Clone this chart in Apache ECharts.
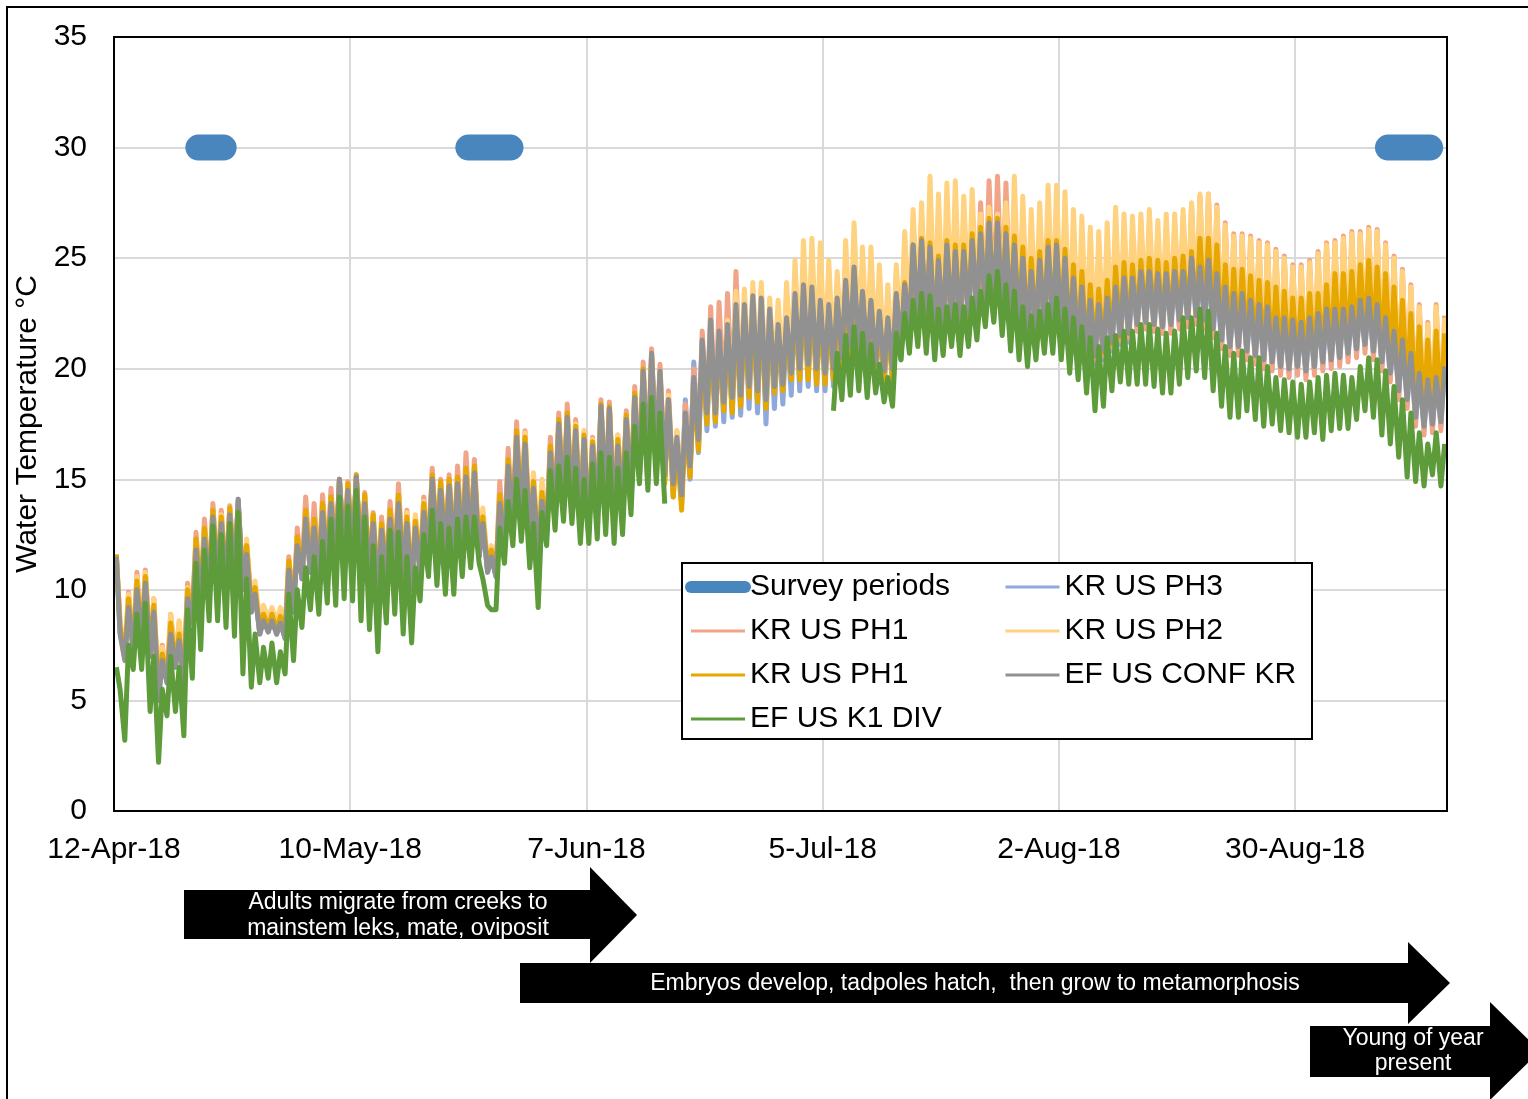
<!DOCTYPE html>
<html>
<head>
<meta charset="utf-8">
<title>Water temperature 2018</title>
<script src="https://cdn.jsdelivr.net/npm/echarts@6/dist/echarts.min.js"></script>
<style>
  html, body { margin: 0; padding: 0; background: #fff; }
  #chart { width: 1528px; height: 1099px; }
</style>
</head>
<body>
<div id="chart"></div>
<script>
// day 0 = 12-Apr-18, one morning (am) and one afternoon (pm) reading per day
const startYear = 2018, startMonth = 3, startDay = 12
const xTickStep = 28
const yMax = 35, yStep = 5

// survey periods (day numbers) drawn at 30 °C
const surveyStart = [10, 42, 151]
const surveyEnd = [13, 47, 156]
const surveyLevel = 30

// EF US CONF KR
const confAm = [11.5,6.8,7.2,7.6,7.0,5.0,5.8,6.5,5.8,8.5,9.5,10.0,10.5,10.2,10.4,10.0,9.0,8.0,8.1,8.0,7.8,
  9.0,10.5,10.8,10.6,11.0,11.2,11.5,11.4,11.0,10.4,9.8,10.5,11.0,10.6,10.0,10.8,11.6,11.8,11.5,11.6,
  11.8,12.0,11.5,10.8,10.6,11.8,12.8,13.0,12.2,11.5,12.5,13.4,13.6,13.5,12.8,12.6,13.2,13.8,13.0,13.5,
  14.0,15.2,15.5,15.8,15.2,14.8,14.3,15.6,16.8,18.0,18.0,18.5,18.7,18.8,19.2,19.0,18.6,19.2,19.3,19.8,
  20.0,20.2,20.0,19.8,20.0,20.5,21.0,20.8,20.5,20.2,19.9,20.0,21.0,21.8,22.2,22.0,21.6,21.8,22.0,
  22.0,22.4,22.6,22.8,22.6,22.5,22.2,21.8,21.6,21.7,22.0,22.0,21.6,21.0,20.8,20.8,20.6,20.8,21.2,21.5,21.6,
  22.0,22.1,22.0,21.9,22.0,22.2,22.3,22.4,22.2,21.8,21.3,21.0,21.0,20.8,20.6,20.4,20.3,20.1,20.0,
  20.1,19.9,20.1,20.3,20.4,20.5,20.7,20.9,21.1,20.8,20.3,19.8,19.0,18.6,17.8,17.4,17.5,17.6]
const confPm = [8.0,9.2,10.0,10.3,9.0,6.8,8.0,7.7,9.6,11.8,12.3,13.3,13.0,13.4,14.1,11.6,9.8,8.6,8.6,8.5,10.9,
  12.0,13.2,12.8,13.5,13.9,15.0,14.5,15.1,13.9,13.0,12.7,13.2,13.9,13.0,12.8,13.5,15.0,14.5,14.7,14.8,
  15.1,15.3,13.0,11.5,13.9,15.6,16.9,16.6,14.6,14.0,16.2,17.5,17.8,17.2,16.8,16.5,18.3,18.2,16.5,17.7,
  18.7,19.9,20.7,19.9,18.6,16.9,18.0,19.6,21.3,22.2,21.7,22.0,22.9,22.9,23.3,23.2,22.7,22.0,22.3,23.4,
  23.8,23.7,23.1,22.9,23.2,24.0,24.6,23.5,23.1,22.6,22.3,23.4,23.8,25.6,25.8,25.5,24.9,25.6,25.3,
  25.3,25.8,26.1,26.6,26.6,26.1,25.6,25.0,24.4,24.9,25.5,25.6,25.0,24.1,23.7,23.1,22.9,23.2,23.7,24.1,24.1,
  24.4,24.4,24.3,24.3,24.4,24.4,25.0,24.6,24.9,24.3,23.7,23.4,23.4,23.1,22.9,22.8,22.3,22.3,22.2,
  22.1,22.3,22.5,22.7,22.7,22.7,22.8,23.1,23.2,22.9,22.3,21.7,21.3,20.7,19.8,19.5,19.6,20.1]

// EF US K1 DIV (logger out of the water 19-Jun to 6-Jul)
const k1Am = [6.5,3.2,6.4,6.4,4.5,2.2,4.3,4.5,3.4,6.0,7.3,8.6,8.6,8.3,7.9,6.2,5.6,5.8,6.0,5.8,6.2,
  6.8,8.3,9.1,8.9,9.4,9.3,9.6,9.5,8.6,8.2,7.2,8.5,8.9,8.0,7.6,9.5,10.6,10.2,9.8,9.8,
  10.6,11.0,11.2,9.3,9.1,11.2,12.0,12.2,11.0,9.2,12.0,12.7,13.1,13.0,12.1,12.1,12.3,12.5,12.1,12.5,
  13.4,14.8,14.5,14.8,13.9,null,null,null,null,null,null,null,null,null,null,null,null,null,null,null,
  null,null,null,null,18.1,18.6,18.8,19.0,18.7,18.9,18.5,18.3,20.4,20.7,21.0,20.7,20.4,20.6,21.0,
  20.6,21.0,21.3,21.9,22.1,21.5,20.8,20.4,20.1,20.4,20.7,20.7,20.4,19.8,19.5,18.9,18.1,18.3,19.0,19.4,19.3,
  19.3,19.3,19.2,18.9,18.9,19.3,19.6,19.9,19.6,19.0,18.3,17.8,17.8,18.1,17.7,17.4,17.5,17.2,17.1,
  16.9,16.9,17.1,16.8,17.2,17.3,17.3,17.7,18.1,17.8,17.0,16.6,16.0,15.1,14.9,14.7,15.2,14.7]
const k1Pm = [5.5,7.5,8.9,9.4,7.0,5.5,7.0,6.5,9.1,11.2,11.8,12.9,12.5,13.0,13.5,10.5,8.0,7.4,7.6,7.2,9.8,
  10.0,11.0,11.5,12.2,13.2,14.2,13.8,14.5,13.3,12.0,11.5,12.7,12.6,11.5,11.0,12.5,13.6,13.0,12.8,13.2,
  13.3,13.3,10.5,9.1,12.8,14.0,15.0,14.5,13.0,13.5,15.4,15.6,16.0,15.5,15.0,15.7,16.2,16.0,15.5,16.2,
  17.4,18.4,18.7,18.0,null,null,null,null,null,null,null,null,null,null,null,null,null,null,null,null,
  null,null,null,null,20.7,21.5,21.9,21.6,21.1,20.2,19.6,21.6,22.5,23.1,23.4,23.3,22.7,22.8,22.9,
  22.8,23.2,23.5,24.2,24.4,23.8,23.5,22.8,22.4,22.6,22.9,23.2,22.7,22.3,21.9,21.4,21.0,21.4,21.5,21.7,21.7,
  22.0,22.0,21.8,21.6,21.7,22.3,22.3,22.7,22.6,21.6,21.0,20.7,20.8,20.5,20.5,20.1,19.6,19.5,19.4,
  19.3,19.4,19.6,19.7,19.8,19.7,19.6,20.1,20.5,20.4,19.9,19.2,18.6,18.0,17.1,16.6,17.1,16.6]

// KR US PH1 (gold)
const ph1bAm = [11.6,7.0,7.4,7.8,7.2,5.3,6.0,6.6,6.0,8.7,9.7,10.2,10.6,10.4,10.6,10.2,9.2,8.2,8.3,8.2,8.0,
  9.2,10.6,11.0,10.8,11.2,11.3,11.6,11.6,11.2,10.6,10.0,10.7,11.2,10.8,10.2,11.0,11.7,12.0,11.7,11.8,
  12.0,12.2,11.7,11.0,10.8,12.0,13.0,13.2,12.4,11.7,12.7,13.6,13.8,13.7,13.0,12.8,13.4,14.0,13.2,13.9,
  14.1,15.0,15.3,15.5,14.8,14.2,13.6,15.1,16.3,17.5,17.6,18.1,18.0,18.3,18.7,18.5,18.2,18.9,19.0,19.5,
  19.5,19.5,19.3,19.3,19.5,19.8,20.2,20.0,19.8,19.6,19.3,19.5,20.6,21.5,21.9,21.8,21.5,21.7,21.9,
  22.0,22.3,22.5,22.6,22.5,22.4,22.1,21.8,21.5,21.6,21.9,22.0,21.6,21.0,20.7,20.6,20.6,20.7,21.1,21.4,21.6,
  22.1,22.2,22.1,22.0,22.1,22.3,22.4,22.5,22.4,22.0,21.5,21.2,21.2,21.0,20.8,20.6,20.5,20.3,20.2,
  20.3,20.2,20.4,20.6,20.7,20.8,21.0,21.2,21.4,21.1,20.6,20.1,19.4,19.0,18.3,17.9,17.9,18.0]
const ph1bPm = [8.3,9.6,10.4,10.6,9.3,7.1,8.5,8.0,10.0,12.3,12.8,13.6,13.3,13.7,13.9,12.0,10.1,8.9,8.9,8.8,11.3,
  12.4,13.6,13.2,13.9,14.2,15.0,14.8,15.2,14.3,13.4,13.0,13.6,14.3,13.3,13.1,13.9,15.2,14.9,15.0,15.1,
  15.5,15.6,13.3,11.8,14.3,15.9,17.2,16.9,14.9,14.4,16.5,17.7,18.0,17.4,17.0,16.7,18.4,18.3,16.8,17.9,
  18.9,20.0,20.5,19.8,18.6,16.5,17.5,19.2,21.0,21.8,21.4,21.6,22.4,22.5,22.9,22.8,22.3,21.7,22.0,23.0,
  23.4,23.4,22.9,22.6,23.0,23.8,24.4,23.4,23.0,22.5,22.2,23.3,23.9,25.6,25.9,25.7,25.1,25.8,25.6,
  25.6,26.1,26.4,26.8,26.8,26.4,26.0,25.5,25.0,25.3,25.8,25.8,25.4,24.7,24.4,23.8,23.6,24.0,24.6,24.8,24.7,
  24.9,25.0,24.9,24.8,25.0,25.1,25.3,25.9,25.9,25.6,24.7,24.5,24.5,24.2,24.0,23.9,23.7,23.5,23.2,
  23.2,23.4,23.4,23.8,24.3,24.3,24.4,24.7,24.9,24.6,24.3,23.7,23.1,22.5,21.9,21.3,21.7,21.6]

// KR US PH2
const ph2Am = [11.6,7.2,7.6,8.0,7.4,5.6,6.2,6.9,6.3,8.8,9.8,10.3,10.8,10.5,10.7,10.4,9.4,8.6,8.7,8.6,8.4,
  9.4,10.8,11.1,10.9,11.3,11.5,11.8,11.7,11.3,10.7,10.2,10.8,11.3,10.9,10.4,11.1,11.9,12.1,11.8,11.9,
  12.1,12.3,11.8,11.2,11.0,12.1,13.1,13.3,12.5,11.9,12.8,13.7,13.9,13.8,13.1,12.9,13.5,14.1,13.4,14.0,
  14.3,15.4,15.8,16.1,15.5,15.0,14.6,15.9,17.1,18.3,18.4,18.8,19.0,19.1,19.5,19.3,19.0,19.5,19.6,20.1,
  20.3,20.5,20.3,20.1,20.3,20.8,21.3,21.1,20.8,20.5,20.2,20.3,21.3,22.1,22.5,22.3,21.9,22.1,22.3,
  22.3,22.7,22.9,23.1,22.9,22.8,22.5,22.1,21.9,22.0,22.3,22.3,21.9,21.3,21.1,21.1,20.9,21.1,21.5,21.8,21.9,
  22.3,22.4,22.3,22.2,22.3,22.5,22.6,22.7,22.5,22.1,21.6,21.3,21.3,21.1,20.9,20.7,20.6,20.4,20.3,
  20.4,20.2,20.4,20.6,20.7,20.8,21.0,21.2,21.4,21.1,20.6,20.1,19.3,18.9,18.1,17.7,17.8,17.9]
const ph2Pm = [8.6,9.8,10.6,10.8,9.6,7.4,8.9,8.6,10.1,12.2,12.8,13.5,13.4,13.7,13.8,12.3,10.4,9.3,9.2,9.2,11.2,
  12.3,13.5,13.1,13.8,14.1,15.0,14.7,15.1,14.2,13.4,13.0,13.5,14.3,13.5,13.4,14.0,15.1,14.8,14.9,15.0,
  15.3,15.5,13.7,12.0,14.1,15.8,17.0,17.1,15.3,15.0,16.3,17.6,17.9,17.5,17.2,16.8,18.3,18.3,17.0,17.8,
  18.8,20.0,20.5,19.9,18.8,17.2,17.8,19.3,21.0,21.9,21.5,22.2,23.5,23.6,23.9,23.9,23.2,23.1,23.9,24.9,
  25.8,25.9,25.7,24.9,24.4,25.8,26.6,25.5,25.5,24.7,23.8,24.7,26.2,27.2,27.5,28.7,27.9,28.4,28.5,
  27.8,28.1,27.0,27.3,27.0,27.5,28.7,27.8,27.2,27.5,28.3,28.3,28.0,27.2,26.9,26.4,26.2,26.6,27.3,27.0,26.9,
  27.0,27.2,26.7,27.0,27.0,27.2,27.5,27.9,27.9,27.3,26.5,26.0,26.0,25.9,25.7,25.6,25.3,25.0,24.6,
  24.6,24.8,25.2,25.6,25.7,25.9,26.1,26.1,26.3,26.2,25.6,25.0,24.4,23.7,22.8,22.0,22.8,22.3]

// KR US PH1 (salmon)
const ph1aAm = [11.5,6.9,7.3,7.7,7.1,5.1,5.9,6.6,5.9,8.6,9.6,10.1,10.6,10.3,10.5,10.1,9.1,8.1,8.2,8.1,7.9,
  9.1,10.6,10.9,10.7,11.1,11.3,11.6,11.5,11.1,10.5,9.9,10.6,11.1,10.7,10.1,10.9,11.7,11.9,11.6,11.7,
  11.9,12.1,11.6,10.9,10.7,11.9,12.9,13.1,12.3,11.6,12.6,13.5,13.7,13.6,12.9,12.7,13.3,13.9,13.1,13.8,
  14.1,15.2,15.5,15.8,15.1,14.6,14.1,15.4,16.6,17.8,17.8,18.3,18.5,18.6,19.0,18.8,18.4,19.0,19.1,19.6,
  19.8,20.0,19.8,19.6,19.8,20.3,20.8,20.6,20.3,20.0,19.7,19.8,20.8,21.6,22.0,21.8,21.4,21.6,21.8,
  21.8,22.2,22.4,22.6,22.4,22.3,22.0,21.6,21.4,21.5,21.8,21.8,21.4,20.8,20.6,20.6,20.4,20.6,21.0,21.3,21.4,
  21.7,21.8,21.7,21.6,21.6,21.8,21.9,22.0,21.8,21.4,20.9,20.6,20.6,20.4,20.2,20.0,19.9,19.7,19.6,
  19.7,19.5,19.7,19.9,20.0,20.1,20.3,20.5,20.7,20.4,19.9,19.4,18.6,18.2,17.4,17.0,17.1,17.2]
const ph1aPm = [8.5,9.9,10.8,10.9,9.6,7.5,8.9,8.5,10.3,12.6,13.2,13.9,13.6,13.8,13.9,12.1,10.2,9.0,9.0,8.9,11.5,
  12.8,14.2,13.9,14.3,14.6,15.0,14.9,15.2,14.4,13.5,13.3,14.0,14.8,13.6,13.3,14.2,15.5,15.0,15.2,15.6,
  16.2,15.9,13.5,11.8,14.9,16.4,17.6,17.2,15.0,14.5,16.9,18.0,18.4,17.7,17.2,16.9,18.6,18.5,17.0,18.1,
  19.2,20.3,20.9,20.2,19.0,17.2,18.4,20.0,21.7,22.8,23.0,23.4,24.4,23.2,23.5,23.6,22.9,22.5,23.3,24.3,
  24.6,24.5,24.0,23.7,23.8,24.9,25.6,24.4,24.2,23.5,23.2,24.2,25.0,26.6,26.8,26.6,25.9,26.6,26.4,
  26.5,26.8,27.5,28.5,28.7,28.4,27.0,26.8,26.3,26.6,27.2,27.3,26.9,26.2,25.9,25.3,25.1,25.5,26.3,26.2,26.1,
  26.3,26.5,26.1,26.4,26.5,26.8,27.4,27.8,27.9,27.4,26.6,26.1,26.1,26.0,25.8,25.7,25.4,25.1,24.7,
  24.7,24.9,25.3,25.7,25.8,26.0,26.2,26.2,26.4,26.3,25.7,25.1,24.5,23.8,22.9,22.1,22.9,22.4]

// KR US PH3
const ph3Am = [11.4,6.9,7.2,7.6,7.0,5.1,5.8,6.5,5.9,8.5,9.5,10.0,10.4,10.2,10.4,10.0,9.0,8.0,8.1,8.0,7.8,
  9.0,10.5,10.8,10.6,11.0,11.2,11.4,11.4,11.0,10.4,9.8,10.5,11.0,10.6,10.0,10.8,11.6,11.8,11.5,11.6,
  11.8,12.0,11.5,10.8,10.6,11.8,12.8,13.0,12.2,11.5,12.5,13.4,13.6,13.5,12.8,12.6,13.2,13.8,13.0,13.6,
  14.0,15.1,15.4,15.6,15.0,14.2,13.9,15.0,16.2,17.2,17.4,17.6,17.8,17.9,18.2,18.0,17.5,18.2,18.4,18.8,
  19.0,19.2,19.0,19.0,19.2,19.6,20.1,19.9,19.6,19.4,19.1,19.3,20.4,21.3,21.7,21.5,21.1,21.3,21.5,
  21.6,22.0,22.2,22.4,22.2,22.1,21.8,21.4,21.2,21.3,21.6,21.6,21.2,20.6,20.4,20.4,20.2,20.4,20.8,21.1,21.2,
  21.7,21.8,21.7,21.6,21.7,21.9,22.0,22.1,21.9,21.5,21.0,20.8,20.8,20.6,20.4,20.2,20.1,19.9,19.8,
  19.9,19.7,19.9,20.1,20.2,20.3,20.5,20.7,20.9,20.6,20.1,19.6,18.8,18.4,17.6,17.2,17.3,17.4]
const ph3Pm = [8.1,9.2,10.0,10.4,9.1,6.9,8.1,7.8,9.7,11.9,12.4,13.3,13.1,13.4,14.1,11.7,9.9,8.7,8.7,8.6,11.0,
  12.1,13.2,12.8,13.5,13.9,15.0,14.5,15.1,13.9,13.0,12.7,13.2,13.9,13.0,12.8,13.5,15.0,14.5,14.7,14.8,
  15.1,15.3,13.0,11.5,13.9,15.6,16.9,16.6,14.6,14.0,16.2,17.5,17.8,17.2,16.8,16.5,18.3,18.2,16.5,17.7,
  18.7,19.9,20.7,19.9,18.6,17.0,18.6,20.3,21.3,22.2,21.7,22.0,22.9,22.9,23.3,23.2,22.7,22.0,22.3,23.4,
  23.8,23.7,23.1,22.9,23.2,24.0,24.6,23.5,23.1,22.6,22.3,23.4,23.8,25.6,25.8,25.5,24.9,25.6,25.3,
  25.3,25.8,26.1,26.6,26.6,26.1,25.6,25.0,24.4,24.9,25.5,25.6,25.0,24.1,23.7,23.1,22.9,23.2,23.7,24.1,24.1,
  24.4,24.4,24.3,24.3,24.4,24.4,25.0,24.6,24.9,24.3,23.7,23.4,23.4,23.1,22.9,22.8,22.3,22.3,22.2,
  22.1,22.3,22.5,22.7,22.7,22.7,22.8,23.1,23.2,22.9,22.3,21.7,21.3,20.7,19.8,19.5,19.6,20.1]

const fontFamily = 'Liberation Sans, Arial, sans-serif'
const monthNames = ['Jan', 'Feb', 'Mar', 'Apr', 'May', 'Jun', 'Jul', 'Aug', 'Sep', 'Oct', 'Nov', 'Dec']
const amTime = 0.28, pmTime = 0.72

const dayLabel = v => {
  const d = new Date(startYear, startMonth, startDay + Math.round(v))
  return d.getDate() + '-' + monthNames[d.getMonth()] + '-' + String(d.getFullYear()).slice(2)
}

// morning + afternoon readings -> [day, value] pairs, '-' breaks the line
const toPoints = (am, pm) => {
  const out = []
  am.forEach((v, d) => {
    out.push([d + amTime, v == null ? '-' : v])
    out.push([d + pmTime, pm[d] == null ? '-' : pm[d]])
  })
  return out
}

const tempSeries = (name, color, am, pm) => ({
  name: name,
  type: 'line',
  data: toPoints(am, pm),
  symbol: 'none',
  silent: true,
  lineStyle: { color: color, width: 5, join: 'round' },
  itemStyle: { color: color }
})

const surveyColor = '#4A86BE'
const surveySeries = surveyStart.map((s, i) => ({
  name: 'Survey periods',
  type: 'line',
  symbol: 'none',
  silent: true,
  data: [[s, surveyLevel], [surveyEnd[i], surveyLevel]],
  lineStyle: { color: surveyColor, width: 26, cap: 'round' },
  itemStyle: { color: surveyColor }
}))

const legendText = { fontSize: 30, color: '#000', fontFamily: fontFamily, lineHeight: 30 }

const chart = echarts.init(document.getElementById('chart'))

chart.setOption({
  animation: false,
  backgroundColor: '#fff',
  grid: { left: 114, top: 37, width: 1333, height: 774 },
  xAxis: {
    type: 'value',
    min: 0,
    max: 158,
    interval: xTickStep,
    axisLine: { show: false },
    axisTick: { show: false },
    splitLine: { show: true, lineStyle: { color: '#D9D9D9', width: 2 } },
    axisLabel: {
      formatter: dayLabel, fontSize: 30, color: '#000', fontFamily: fontFamily,
      margin: 24, showMaxLabel: false
    }
  },
  yAxis: {
    type: 'value',
    min: 0,
    max: yMax,
    interval: yStep,
    name: 'Water Temperature °C',
    nameLocation: 'middle',
    nameGap: 66,
    nameTextStyle: { fontSize: 30, color: '#000', fontFamily: fontFamily },
    axisLine: { show: false },
    axisTick: { show: false },
    splitLine: { show: true, lineStyle: { color: '#D9D9D9', width: 2 } },
    axisLabel: { fontSize: 30, color: '#000', fontFamily: fontFamily, margin: 27 }
  },
  legend: [
    {
      left: 680, top: 567, orient: 'vertical',
      itemWidth: 54, itemHeight: 14, itemGap: 14,
      textStyle: legendText,
      itemStyle: { opacity: 0 },
      lineStyle: { width: 3 },
      z: 20,
      data: [
        { name: 'Survey periods', lineStyle: { width: 12, cap: 'round' } },
        'KR US PH1', 'KR US PH1 ', 'EF US K1 DIV'
      ]
    },
    {
      left: 999, top: 567, orient: 'vertical',
      itemWidth: 54, itemHeight: 14, itemGap: 14,
      textStyle: legendText,
      itemStyle: { opacity: 0 },
      lineStyle: { width: 3 },
      z: 20,
      data: ['KR US PH3', 'KR US PH2', 'EF US CONF KR']
    }
  ],
  graphic: [
    // chart area frame
    { type: 'rect', z: 1, silent: true, shape: { x: 7, y: 7, width: 1570, height: 1130 },
      style: { fill: 'none', stroke: '#000', lineWidth: 2 } },
    // plot area border, above the split lines
    { type: 'rect', z: 5, silent: true, shape: { x: 114, y: 37, width: 1333, height: 774 },
      style: { fill: 'none', stroke: '#000', lineWidth: 2 } },
    // legend box
    { type: 'rect', z: 15, silent: true, shape: { x: 682, y: 563, width: 630, height: 176 },
      style: { fill: '#fff', stroke: '#000', lineWidth: 2 } },
    // life-stage arrows
    { type: 'polygon', z: 10, silent: true,
      shape: { points: [[184, 890], [590, 890], [590, 867], [637, 915], [590, 963], [590, 939], [184, 939]] },
      style: { fill: '#000' } },
    { type: 'polygon', z: 10, silent: true,
      shape: { points: [[520, 963], [1408, 963], [1408, 942], [1450, 983], [1408, 1024], [1408, 1003], [520, 1003]] },
      style: { fill: '#000' } },
    { type: 'polygon', z: 10, silent: true,
      shape: { points: [[1310, 1026], [1490, 1026], [1490, 1002], [1540, 1051], [1490, 1100], [1490, 1077], [1310, 1077]] },
      style: { fill: '#000' } },
    { type: 'text', z: 11, silent: true,
      style: { text: 'Adults migrate from creeks to\nmainstem leks, mate, oviposit', x: 398, y: 916,
        fill: '#fff', fontSize: 23, fontFamily: fontFamily, align: 'center', verticalAlign: 'middle', lineHeight: 26 } },
    { type: 'text', z: 11, silent: true,
      style: { text: 'Embryos develop, tadpoles hatch,  then grow to metamorphosis', x: 975, y: 984,
        fill: '#fff', fontSize: 23, fontFamily: fontFamily, align: 'center', verticalAlign: 'middle' } },
    { type: 'text', z: 11, silent: true,
      style: { text: 'Young of year\npresent', x: 1413, y: 1051,
        fill: '#fff', fontSize: 23, fontFamily: fontFamily, align: 'center', verticalAlign: 'middle', lineHeight: 25 } }
  ],
  series: [
    ...surveySeries,
    tempSeries('KR US PH3', '#8EA9DB', ph3Am, ph3Pm),
    tempSeries('KR US PH1', '#F2A488', ph1aAm, ph1aPm),
    tempSeries('KR US PH2', '#FFD27F', ph2Am, ph2Pm),
    tempSeries('KR US PH1 ', '#E6A700', ph1bAm, ph1bPm),
    tempSeries('EF US CONF KR', '#919191', confAm, confPm),
    tempSeries('EF US K1 DIV', '#5E9B3A', k1Am, k1Pm)
  ]
})

window.addEventListener('resize', () => chart.resize())
</script>
</body>
</html>
